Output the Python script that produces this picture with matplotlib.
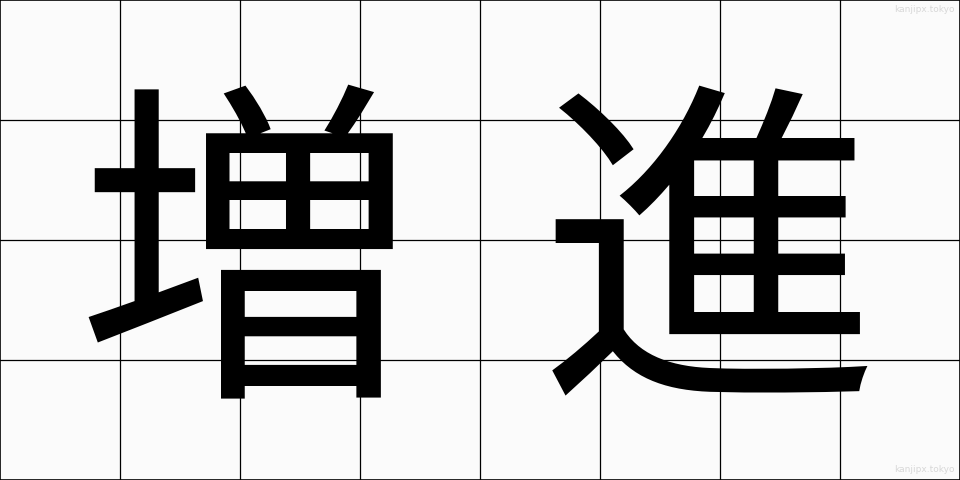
import matplotlib
matplotlib.use("Agg")
import matplotlib.pyplot as plt

# --- Data ---
chars = ["増", "進"]
watermark = "kanjipx.tokyo"

# --- Layout ---
W, H = 960, 480
CELL = 120
glyph_x = [246, 710]   # ink-centre of each glyph (reference draws on advance boxes)
glyph_y = 273

fig = plt.figure(figsize=(9.6, 4.8), dpi=100)
ax = fig.add_axes([0, 0, 1, 1])
ax.set_xlim(0, W)
ax.set_ylim(H, 0)
ax.set_facecolor("#fbfbfb")

for gx in range(CELL, W, CELL):
    ax.axvline(gx, color="black", linewidth=0.9)
for gy in range(CELL, H, CELL):
    ax.axhline(gy, color="black", linewidth=0.9)

for spine in ax.spines.values():
    spine.set_color("black")
    spine.set_linewidth(1.2)
ax.set_xticks([])
ax.set_yticks([])

for ch, cx in zip(chars, glyph_x):
    ax.text(cx, glyph_y, ch, fontsize=245, family=["Noto Sans CJK JP", "DejaVu Sans"],
            ha="center", va="center", color="black")

ax.text(955, 10, watermark, fontsize=6.5, color="#d8d8d8", ha="right", va="center")
ax.text(955, 470, watermark, fontsize=6.5, color="#d8d8d8", ha="right", va="center")

fig.savefig("out.png", dpi=100)
plt.close(fig)
